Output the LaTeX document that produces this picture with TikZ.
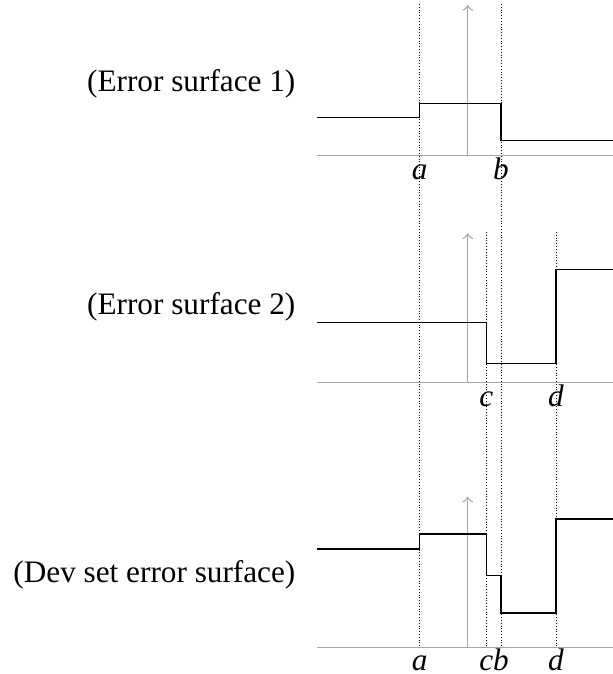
\documentclass[tikz,border=0pt]{standalone}
\usepackage{fontspec}
\setmainfont{Liberation Serif}

\begin{document}
\begin{tikzpicture}[x=0.32pt,y=-0.32pt,
    axis/.style={draw=black!35,line width=0.4pt},
    guide/.style={draw=black,line width=0.3pt,dash pattern=on 0.3pt off 0.6pt},
    surf/.style={draw=black,line width=0.4pt},
    lbl/.style={anchor=base,inner sep=0pt,font=\itshape}]
    \useasboundingbox (0,0) rectangle (613,674);
    % guides through all panels
    \draw [guide] (419.7,4) to (419.7,647.3);
    \draw [guide] (501,4) to (501,647.3);
    \draw [guide] (486.3,232) to (486.3,647.3);
    \draw [guide] (556,232) to (556,647.3);
    % panel 1
    \draw [axis] (317,155.7) to (613,155.7);
    \draw [axis,->] (467.7,155.7) to (467.7,5);
    \draw [surf] (317,117.7) to (419.7,117.7) to (419.7,103.3) to (501,103.3)
        to (501,140.7) to (613,140.7);
    \node (err1) [anchor=east,inner sep=0pt] at (296,84) {(Error surface 1)};
    \node (a1) [lbl] at (419.7,179) {a};
    \node (b1) [lbl] at (501,179) {b};
    % panel 2
    \draw [axis] (317,382.7) to (613,382.7);
    \draw [axis,->] (467.7,382.7) to (467.7,233.3);
    \draw [surf] (317,322.3) to (486.3,322.3) to (486.3,363.7) to (556,363.7)
        to (556,269.3) to (613,269.3);
    \node (err2) [anchor=east,inner sep=0pt] at (296,307) {(Error surface 2)};
    \node (c2) [lbl] at (486.3,406) {c};
    \node (d2) [lbl] at (556,406) {d};
    % panel 3
    \draw [axis] (317,647.3) to (613,647.3);
    \draw [axis,->] (467.7,647.3) to (467.7,496.7);
    \draw [surf] (317,549) to (419.7,549) to (419.7,534) to (486.3,534)
        to (486.3,575.3) to (501,575.3) to (501,613) to (556,613)
        to (556,519) to (613,519);
    \node (dev) [anchor=east,inner sep=0pt] at (296,575) {(Dev set error surface)};
    \node (a3) [lbl] at (419.7,670.5) {a};
    \node (c3) [lbl] at (486.3,670.5) {c};
    \node (b3) [lbl] at (501,670.5) {b};
    \node (d3) [lbl] at (556,670.5) {d};
\end{tikzpicture}
\end{document}
